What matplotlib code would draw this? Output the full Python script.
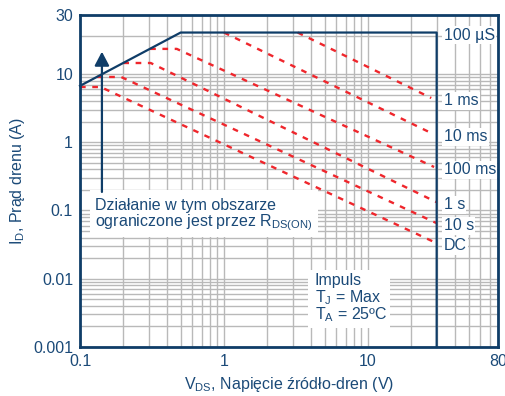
import numpy as np
import matplotlib
matplotlib.use("Agg")
import matplotlib.pyplot as plt
from matplotlib.ticker import FixedLocator, FixedFormatter, NullFormatter
from matplotlib.patches import Rectangle

plt.rcParams['font.family'] = ['Liberation Sans', 'DejaVu Sans']
plt.rcParams['mathtext.fontset'] = 'custom'
plt.rcParams['mathtext.rm'] = 'Liberation Sans'
plt.rcParams['mathtext.it'] = 'Liberation Sans:italic'

# ---------------- data ----------------
soa_v = [0.1, 0.5, 30, 30]
soa_i = [6.7, 21.5, 21.5, 0.001]

p1ms_v = [3.25, 27.5]
p1ms_i = [21.5, 4.45]
p10ms_v = [1.0, 28.4]
p10ms_i = [21.5, 1.32]
p100ms_v = [0.307, 0.47, 28.8]
p100ms_i = [15.9, 15.9, 0.434]
p1s_v = [0.2, 0.31, 29.8]
p1s_i = [12.25, 12.25, 0.133]
p10s_v = [0.131, 0.193, 29.8]
p10s_i = [9.04, 9.04, 0.0656]
pdc_v = [0.1, 0.139, 29.8]
pdc_i = [6.45, 6.45, 0.0334]

pulse_labels = ['1 ms', '10 ms', '100 ms', '1 s', '10 s', 'DC']
soa_label = '100 µS'

x_ticks = [0.1, 1, 10, 80]
x_ticklabels = ['0.1', '1', '10', '80']
y_ticks = [0.001, 0.01, 0.1, 1, 10, 30]
y_ticklabels = ['0.001', '0.01', '0.1', '1', '10', '30']

arrow_v = 0.142
arrow_i = [0.187, 15.1]

NAVY = '#0f3d68'
TXT = '#1b4a78'
RED = '#ef262c'
GRID = '#b9b9b9'

# y scale: log decades, top 10..30 band stretched as in the original chart
K = 1.827
def fwd(y):
    y = np.asarray(y, dtype=float)
    ly = np.log10(np.clip(y, 1e-12, None))
    return np.where(ly <= 1, ly, 1 + (ly - 1) * K)

def inv(t):
    t = np.asarray(t, dtype=float)
    return np.where(t <= 1, 10.0 ** t, 10.0 ** (1 + (t - 1) / K))

fig = plt.figure(figsize=(5.05, 3.96), dpi=100)
ax = fig.add_axes([80/505, 1 - 347/396, 418/505, 332.5/396])
ax.set_xscale('log')
ax.set_yscale('function', functions=(fwd, inv))
ax.set_xlim(0.1, 80)
ax.set_ylim(0.001, 30)

x_minor = [m * 10.0**k for k in (-1, 0) for m in range(2, 10)] + [20, 30, 40, 50, 60, 70]
y_minor = [m * 10.0**k for k in (-3, -2, -1, 0) for m in range(2, 10)] + [20]
ax.xaxis.set_major_locator(FixedLocator(x_ticks))
ax.xaxis.set_major_formatter(FixedFormatter(x_ticklabels))
ax.xaxis.set_minor_locator(FixedLocator(x_minor))
ax.xaxis.set_minor_formatter(NullFormatter())
ax.yaxis.set_major_locator(FixedLocator(y_ticks))
ax.yaxis.set_major_formatter(FixedFormatter(y_ticklabels))
ax.yaxis.set_minor_locator(FixedLocator(y_minor))
ax.yaxis.set_minor_formatter(NullFormatter())

ax.grid(True, which='both', color=GRID, lw=1.0, zorder=0)
ax.set_axisbelow(True)
ax.tick_params(which='both', length=0, labelsize=11.5, labelcolor=TXT, pad=5)

for s in ax.spines.values():
    s.set_color(NAVY)
    s.set_linewidth(2.0)
    s.set_zorder(10)

# pulse lines
pulses = [(p1ms_v, p1ms_i), (p10ms_v, p10ms_i), (p100ms_v, p100ms_i),
          (p1s_v, p1s_i), (p10s_v, p10s_i), (pdc_v, pdc_i)]
for (v, i), lab in zip(pulses, pulse_labels):
    ax.plot(v, i, color=RED, lw=1.7, dashes=(2.4, 2.8), zorder=3, clip_on=False)
    ax.annotate(lab, xy=(30, i[-1]), xytext=(5, -2), textcoords='offset points',
                va='center', ha='left', fontsize=11.5, color=TXT, zorder=6,
                bbox=dict(fc='white', ec='none', pad=1.0))

ax.plot(soa_v, soa_i, color=NAVY, lw=1.6, zorder=5, clip_on=False)
ax.annotate(soa_label, xy=(30, soa_i[1]), xytext=(5, -2), textcoords='offset points',
            va='center', ha='left', fontsize=11.5, color=TXT, zorder=6,
            bbox=dict(fc='white', ec='none', pad=1.0))

# arrow
ax.annotate('', xy=(arrow_v, arrow_i[1]), xytext=(arrow_v, arrow_i[0]),
            arrowprops=dict(arrowstyle='-|>,head_length=0.38,head_width=0.2',
                            color=NAVY, lw=1.6, mutation_scale=22,
                            shrinkA=0, shrinkB=0), zorder=5)

# annotation box (axes fraction from pixel layout)
def fx(px):
    return (px - 80) / 418.0
def fy(py):
    return (347 - py) / 332.5

ax.add_patch(Rectangle((fx(90), fy(237)), fx(318) - fx(90), fy(190) - fy(237),
                       transform=ax.transAxes, fc='white', ec='none', zorder=4))
ax.text(fx(95), fy(210), 'Działanie w tym obszarze', transform=ax.transAxes,
        fontsize=11.5, color=TXT, va='baseline', ha='left', zorder=6)
ax.text(fx(95), fy(226), r'ograniczone jest przez R$_{\mathrm{DS(ON)}}$',
        transform=ax.transAxes, fontsize=11.5, color=TXT, va='baseline', ha='left', zorder=6)

ax.add_patch(Rectangle((fx(308), fy(328)), fx(390) - fx(308), fy(270) - fy(328),
                       transform=ax.transAxes, fc='white', ec='none', zorder=4))
ax.text(fx(315), fy(285), 'Impuls', transform=ax.transAxes,
        fontsize=11.5, color=TXT, va='baseline', ha='left', zorder=6)
ax.text(fx(315), fy(302), r'T$_\mathrm{J}$ = Max', transform=ax.transAxes,
        fontsize=11.5, color=TXT, va='baseline', ha='left', zorder=6)
ax.text(fx(315), fy(319), r'T$_\mathrm{A}$ = 25ºC', transform=ax.transAxes,
        fontsize=11.5, color=TXT, va='baseline', ha='left', zorder=6)

ax.set_xlabel(r'V$_\mathrm{DS}$, Napięcie źródło-dren (V)', fontsize=11.5, color=TXT, labelpad=4)
ax.set_ylabel(r'I$_\mathrm{D}$, Prąd drenu (A)', fontsize=11.5, color=TXT, labelpad=4)

fig.savefig('out.png', dpi=100)
